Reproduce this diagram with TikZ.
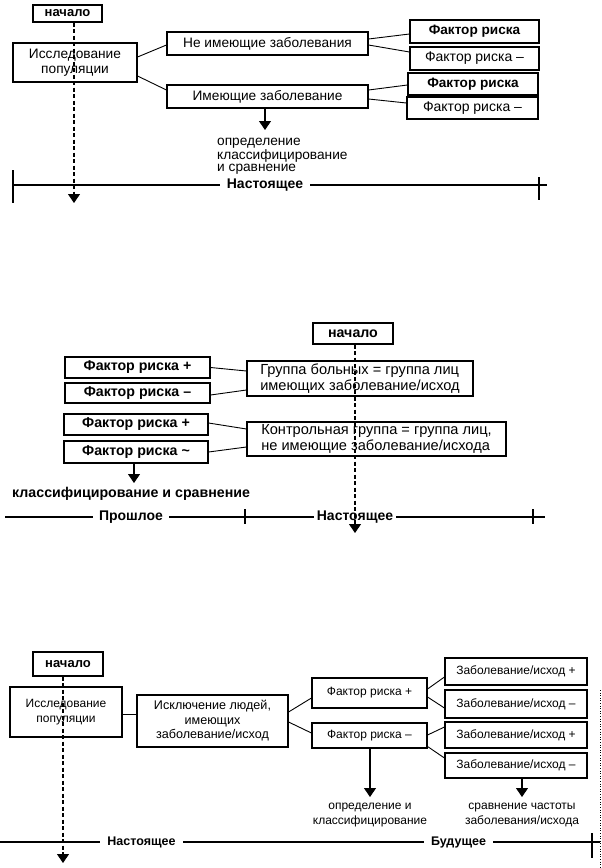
\documentclass[tikz,border=0pt]{standalone}
\usepackage{fontspec}
\setmainfont{Liberation Sans}
\usetikzlibrary{arrows.meta}
\begin{document}
\begin{tikzpicture}[x=1pt,y=-1pt,
  box/.style={draw, line width=1.1pt, inner sep=0pt, align=center},
  fA/.style={font=\fontsize{13.7}{15.5}\selectfont},
  fB/.style={font=\fontsize{14.6}{16}\selectfont},
  fC/.style={font=\fontsize{12}{14.5}\selectfont},
  bold/.style={font=\fontsize{13}{14}\selectfont\bfseries},
  boldB/.style={font=\fontsize{14.2}{15}\selectfont\bfseries},
  conn/.style={line width=0.9pt},
  arr/.style={line width=1.1pt, -{Triangle[width=12pt,length=9pt]}},
  dline/.style={line width=1.1pt, dash pattern=on 4pt off 2.5pt, -{Triangle[width=12pt,length=9pt]}},
  tline/.style={line width=1.4pt},
  tmark/.style={line width=2pt},
  tlab/.style={fill=white, inner xsep=7pt, inner ysep=1pt, font=\fontsize{12.5}{14}\selectfont\bfseries},
  tlabB/.style={tlab, font=\fontsize{14}{15}\selectfont\bfseries},
  txt/.style={inner sep=0pt}]
\fill[white] (0,0) rectangle (602,868);
\useasboundingbox (0,0) rectangle (602,868);

% ---------------- Panel 1 ----------------
\node[box,bold,minimum width=69pt,minimum height=17pt] (s1) at (67.5,13.5) {начало};
\node[box,fA,minimum width=124pt,minimum height=39pt] (p1) at (75,62.5) {Исследование\\популяции};
\node[box,fA,minimum width=201pt,minimum height=23pt] (n1) at (267.5,43.5) {Не имеющие заболевания};
\node[box,fA,minimum width=201pt,minimum height=23pt] (y1) at (267.5,96.5) {Имеющие заболевание};
\node[box,font=\fontsize{13.6}{15}\selectfont\bfseries,minimum width=129pt,minimum height=23pt] (f1a) at (474.5,31.5) {Фактор риска};
\node[box,font=\fontsize{14}{15}\selectfont,minimum width=129pt,minimum height=23pt] (f1b) at (474.5,58.5) {Фактор риска –};
\node[box,font=\fontsize{13.6}{15}\selectfont\bfseries,minimum width=130pt,minimum height=22pt] (f1c) at (473,84) {Фактор риска};
\node[box,font=\fontsize{14}{15}\selectfont,minimum width=131pt,minimum height=22pt] (f1d) at (472.5,108) {Фактор риска –};
\draw[conn] ([yshift=5.5pt]p1.east) -- ([yshift=-1.5pt]n1.west);
\draw[conn] ([yshift=-13.5pt]p1.east) -- ([yshift=6.5pt]y1.west);
\draw[conn] ([yshift=4.5pt]n1.east) -- ([yshift=-2.5pt]f1a.west);
\draw[conn] ([yshift=-1.5pt]n1.east) -- ([yshift=6.5pt]f1b.west);
\draw[conn] ([yshift=6.5pt]y1.east) -- ([yshift=-1pt]f1c.west);
\draw[conn] ([yshift=-2.5pt]y1.east) -- ([yshift=5pt]f1d.west);
\coordinate (a1) at (265,130);
\draw[arr] (y1.south -| a1) -- (a1);
\node[txt,align=left,anchor=north west,font=\fontsize{13.7}{12.3}\selectfont] (t1) at (217,138) {определение\\классифицирование\\и сравнение};
% timeline 1
\coordinate (L1a) at (13,185); \coordinate (L1b) at (547,185);
\draw[tline] (L1a) -- (L1b);
\draw[tmark] (13,170) -- (13,203);
\draw[tmark] (539,177) -- (539,200);
\node[tlabB] (now1) at (265,185) {Настоящее};
\coordinate (e1) at (74,203);
\draw[dline] (s1.south -| e1) -- (e1);

% ---------------- Panel 2 ----------------
\node[box,boldB,minimum width=80pt,minimum height=21pt] (s2) at (353,333.5) {начало};
\node[box,boldB,minimum width=145pt,minimum height=21pt] (fa) at (137.5,367.5) {Фактор риска +};
\node[box,boldB,minimum width=145pt,minimum height=20pt] (fb) at (137.5,393) {Фактор риска –};
\node[box,boldB,minimum width=144pt,minimum height=21pt] (fc) at (136,424.5) {Фактор риска +};
\node[box,boldB,minimum width=144pt,minimum height=22pt] (fd) at (136,452) {Фактор риска \textasciitilde};
\node[box,fB,align=left,minimum width=226pt,minimum height=35pt] (grp) at (360,378.5) {Группа больных = группа лиц\\имеющих заболевание/исход};
\node[box,fB,align=left,minimum width=259pt,minimum height=34pt] (ctl) at (376.5,439) {Контрольная группа = группа лиц,\\не имеющие заболевание/исхода};
\draw[conn] (fa.east) -- ([yshift=7.5pt]grp.west);
\draw[conn] ([yshift=-2pt]fb.east) -- ([yshift=-11.5pt]grp.west);
\draw[conn] ([yshift=1.5pt]fc.east) -- ([yshift=10pt]ctl.west);
\draw[conn] (fd.east) -- ([yshift=-8pt]ctl.west);
\coordinate (a2) at (134,483);
\draw[arr] (fd.south -| a2) -- (a2);
\node[txt,anchor=west,boldB] (t2) at (12,494) {классифицирование и сравнение};
% timeline 2
\coordinate (L2a) at (5,517); \coordinate (L2b) at (545,517);
\draw[tline] (L2a) -- (L2b);
\draw[tmark] (245,509) -- (245,524);
\draw[tmark] (533,509) -- (533,524);
\node[tlabB,inner xsep=6pt] (past2) at (131,517) {Прошлое};
\node[tlabB,inner xsep=3pt] (now2) at (355,517) {Настоящее};
\coordinate (e2) at (355,533);
\draw[dline] (s2.south -| e2) -- (e2);

% ---------------- Panel 3 ----------------
\node[box,bold,minimum width=70pt,minimum height=24pt] (s3) at (68,664) {начало};
\node[box,fC,minimum width=112pt,minimum height=50pt] (p3) at (66,712) {Исследование\\популяции};
\node[box,font=\fontsize{12.6}{14.5}\selectfont,minimum width=151pt,minimum height=52pt] (exc) at (212.5,721) {Исключение людей,\\имеющих\\заболевание/исход};
\node[box,fC,minimum width=115pt,minimum height=30pt] (fp) at (369.5,693) {Фактор риска +};
\node[box,fC,minimum width=115pt,minimum height=25pt] (fm) at (369.5,735.5) {Фактор риска –};
\node[box,fC,minimum width=142pt,minimum height=27pt] (d1) at (516,671.5) {Заболевание/исход +};
\node[box,fC,minimum width=142pt,minimum height=28pt] (d2) at (516,704) {Заболевание/исход –};
\node[box,fC,minimum width=142pt,minimum height=26pt] (d3) at (516,735) {Заболевание/исход +};
\node[box,fC,minimum width=142pt,minimum height=25pt] (d4) at (516,765.5) {Заболевание/исход –};
\draw[conn] ([yshift=-2pt]p3.east) -- ([yshift=-2pt]p3.east -| exc.west);
\draw[conn] ([yshift=9pt]exc.east) -- ([yshift=-5pt]fp.west);
\draw[conn] ([yshift=-1pt]exc.east) -- ([yshift=2.5pt]fm.west);
\draw[conn] ([yshift=4pt]fp.east) -- ([yshift=-5.5pt]d1.west);
\draw[conn] ([yshift=-4pt]fp.east) -- ([yshift=-4pt]d2.west);
\draw[conn] ([yshift=0.5pt]fm.east) -- ([yshift=8pt]d3.west);
\draw[conn] ([yshift=-11pt]fm.east) -- ([yshift=7.5pt]d4.west);
\coordinate (a3) at (370,797);
\draw[arr] (fm.south -| a3) -- (a3);
\coordinate (a4) at (522,797);
\draw[arr] (d4.south -| a4) -- (a4);
\node[txt,fC,align=center] (t3) at (370,815) {определение и\\классифицирование};
\node[txt,fC,align=center] (t4) at (522,815) {сравнение частоты\\заболевания/исхода};
% timeline 3
\coordinate (L3a) at (0,842); \coordinate (L3b) at (600,842);
\draw[tline] (L3a) -- (L3b);
\draw[tmark] (592,833) -- (592,858);
\node[tlab] (now3) at (141.5,842) {Настоящее};
\node[tlab] (fut3) at (458.5,842) {Будущее};
\draw[line width=0.6pt, dotted] (600,690) -- (600,868);
\coordinate (e3) at (63,863);
\draw[dline] (s3.south -| e3) -- (e3);
\end{tikzpicture}
\end{document}
